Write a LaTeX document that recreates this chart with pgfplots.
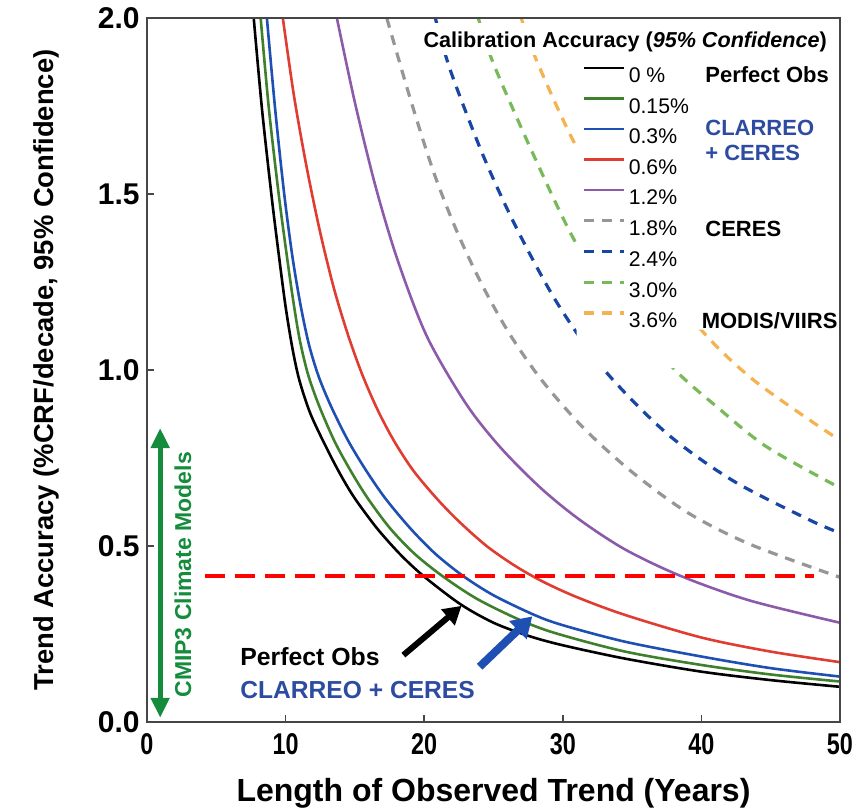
\documentclass[border=0pt]{standalone}
\usepackage{fontspec}
\setmainfont{Liberation Sans}
\usepackage{graphicx}
\usepackage{pgfplots}
\pgfplotsset{compat=1.18}
\usetikzlibrary{arrows.meta}

\definecolor{axisgray}{RGB}{70,70,70}
\definecolor{cgreen}{RGB}{62,128,44}
\definecolor{cblue}{RGB}{30,80,180}
\definecolor{cred}{RGB}{224,60,50}
\definecolor{cpurple}{RGB}{140,90,170}
\definecolor{cgray}{RGB}{150,150,150}
\definecolor{cdblue}{RGB}{25,70,165}
\definecolor{clgreen}{RGB}{120,185,90}
\definecolor{corange}{RGB}{245,178,80}
\definecolor{cmip}{RGB}{20,140,60}
\definecolor{txtblue}{RGB}{45,75,160}

\begin{document}
\begin{tikzpicture}
\begin{axis}[
    scale only axis, width=346.5pt, height=352pt,
    xmin=0, xmax=50, ymin=0, ymax=2,
    axis on top,
    axis line style={draw=axisgray, line width=1pt},
    xtick={0,10,20,30,40,50},
    xticklabels={\scalebox{0.78}[1]{0},\scalebox{0.78}[1]{10},\scalebox{0.78}[1]{20},
                 \scalebox{0.78}[1]{30},\scalebox{0.78}[1]{40},\scalebox{0.78}[1]{50}},
    ytick={0,0.5,1,1.5,2}, yticklabels={0.0,0.5,1.0,1.5,2.0},
    xtick pos=bottom, ytick pos=left, tick align=inside,
    major tick length=3.5pt,
    tick style={draw=axisgray, line width=0.8pt},
    xticklabel style={font=\fontsize{15}{15}\selectfont\bfseries, inner sep=0pt, anchor=north, yshift=-5.5pt},
    yticklabel style={font=\fontsize{15}{15}\selectfont\bfseries, inner sep=0pt, anchor=east, xshift=-3.5pt},
    xlabel={Length of Observed Trend (Years)},
    ylabel={Trend Accuracy (\%CRF/decade, 95\% Confidence)},
    xlabel style={font=\fontsize{16}{16}\selectfont\bfseries, at={(axis description cs:0.5,-0.1009)}, anchor=center},
    ylabel style={font=\fontsize{13.7}{13.7}\selectfont\bfseries, at={(axis description cs:-0.1457,0.5)}, anchor=center},
    legend style={draw=none, fill=none, at={(axis cs:31.4,1.491)}, anchor=west,
        inner sep=0pt, row sep=7.2pt, column sep=1.5pt,
        font=\fontsize{10.6}{12}\selectfont, nodes={inner sep=0pt, text height=7.6pt, text depth=0pt}},
    legend cell align=left,
    legend image code/.code={\draw[#1] (0pt,3.6pt) -- (20pt,3.6pt);},
    every axis plot/.append style={smooth, tension=0.5},
]
% 0 %
\addplot[black, line width=1.3pt] coordinates {
(7.7,2.00)(8.3,1.74)(9.0,1.49)(9.5,1.33)(10.0,1.18)(10.5,1.06)(11.0,0.97)(11.8,0.875)
(13.0,0.775)(14.0,0.70)(15.0,0.635)(16.6,0.55)(18.3,0.475)(20.0,0.413)(22.6,0.335)
(25.0,0.282)(27.5,0.245)(30.0,0.218)(34.5,0.180)(40.0,0.143)(45.0,0.119)(50.0,0.100)};
% 0.15 %
\addplot[cgreen, line width=1.3pt] coordinates {
(8.2,2.00)(8.8,1.74)(9.5,1.50)(10.0,1.35)(10.5,1.21)(11.0,1.09)(11.6,0.99)(12.4,0.90)
(13.5,0.80)(14.6,0.72)(15.85,0.64)(17.5,0.552)(19.3,0.478)(21.3,0.415)(23.8,0.350)
(26.9,0.29)(29.5,0.252)(34.5,0.200)(40.0,0.162)(45.0,0.135)(50.0,0.115)};
% 0.3 %
\addplot[cblue, line width=1.3pt] coordinates {
(8.65,2.00)(9.25,1.74)(9.9,1.50)(10.5,1.32)(11.1,1.18)(11.7,1.07)(12.4,0.98)(13.3,0.895)
(14.5,0.80)(15.8,0.715)(17.2,0.635)(19.0,0.55)(20.8,0.478)(22.8,0.415)(25.0,0.36)
(27.9,0.305)(30.0,0.275)(34.5,0.228)(40.0,0.186)(45.0,0.153)(50.0,0.129)};
% 0.6 %
\addplot[cred, line width=1.3pt] coordinates {
(9.8,2.00)(10.6,1.78)(11.5,1.58)(12.5,1.39)(13.5,1.23)(14.5,1.10)(15.5,0.99)(16.6,0.89)
(17.8,0.80)(19.2,0.715)(20.9,0.635)(22.5,0.57)(24.5,0.50)(26.5,0.445)(28.5,0.40)
(31.0,0.355)(34.5,0.304)(40.0,0.240)(45.0,0.200)(50.0,0.170)};
% 1.2 %
\addplot[cpurple, line width=1.3pt] coordinates {
(13.7,2.00)(15.0,1.76)(16.5,1.52)(18.1,1.31)(20.2,1.095)(23.0,0.905)(25.5,0.78)
(28.4,0.665)(31.2,0.575)(34.5,0.49)(38.5,0.415)(43.5,0.345)(50.0,0.282)};
% 1.8 %
\addplot[cgray, line width=1.6pt, dash pattern=on 5pt off 4pt] coordinates {
(17.3,2.00)(19.0,1.77)(20.7,1.56)(22.4,1.39)(24.2,1.24)(26.2,1.10)(28.5,0.97)
(31.5,0.835)(35.0,0.71)(39.0,0.595)(43.5,0.505)(50.0,0.411)};
% 2.4 %
\addplot[cdblue, line width=1.6pt, dash pattern=on 5pt off 4pt] coordinates {
(20.8,2.00)(21.9,1.85)(24.3,1.605)(26.7,1.40)(29.6,1.19)(33.0,1.00)(37.5,0.82)
(42.3,0.685)(47.8,0.574)(50.0,0.537)};
% 3.0 %
\addplot[clgreen, line width=1.6pt, dash pattern=on 5pt off 4pt] coordinates {
(23.9,2.00)(25.0,1.87)(27.9,1.61)(30.9,1.364)(34.0,1.18)(38.1,1.00)(41.1,0.896)
(44.7,0.782)(50.0,0.665)};
% 3.6 %
\addplot[corange, line width=1.6pt, dash pattern=on 5pt off 4pt] coordinates {
(27.0,2.00)(28.1,1.88)(30.9,1.64)(35.0,1.36)(40.1,1.109)(43.5,0.98)(47.1,0.877)(50.0,0.80)};
% requirement line
\addplot[red, line width=1.6pt, dash pattern=on 10pt off 5pt, forget plot, sharp plot] coordinates {
(4.2,0.415)(48.1,0.415)};
\legend{0 \%,0.15\%,0.3\%,0.6\%,1.2\%,1.8\%,2.4\%,3.0\%,3.6\%}

% white panels behind the key
\fill[white] (axis cs:31.0,1.90) -- (axis cs:31.0,1.005) -- (axis cs:38.8,1.005)
    -- (axis cs:38.8,1.115) -- (axis cs:49.95,1.115) -- (axis cs:49.95,1.90) -- cycle;
\fill[white] (axis cs:19.3,1.895) rectangle (axis cs:49.95,1.985);
\node[font=\fontsize{10.8}{12}\selectfont\bfseries] at (axis cs:34.5,1.932)
    {Calibration Accuracy (\textit{95\% Confidence})};
\node[font=\fontsize{11}{13}\selectfont\bfseries, anchor=west, inner sep=0pt] at (axis cs:40.26,1.838) {Perfect Obs};
\node[font=\fontsize{11}{12.5}\selectfont\bfseries, text=txtblue, anchor=west, align=left, inner sep=0pt] at (axis cs:40.26,1.653) {CLARREO\\+ CERES};
\node[font=\fontsize{11}{13}\selectfont\bfseries, anchor=west, inner sep=0pt] at (axis cs:40.26,1.40) {CERES};
\node[font=\fontsize{11}{13}\selectfont\bfseries, anchor=west, inner sep=0pt] at (axis cs:40.0,1.139) {MODIS/VIIRS};

% annotations
\node[font=\fontsize{12.4}{14}\selectfont\bfseries, anchor=west, inner sep=0pt] at (axis cs:6.71,0.185) {Perfect Obs};
\node[font=\fontsize{12.3}{14}\selectfont\bfseries, text=txtblue, anchor=west, inner sep=0pt] at (axis cs:6.71,0.091) {CLARREO + CERES};
\draw[black, line width=3pt, -{Triangle[length=9pt, width=10pt]}] (axis cs:18.5,0.19) -- (axis cs:22.7,0.33);
\draw[cblue, line width=4pt, -{Triangle[length=10pt, width=12pt]}] (axis cs:24.0,0.157) -- (axis cs:27.8,0.30);
\draw[cmip, line width=2.5pt, {Triangle[length=10pt, width=9pt]}-{Triangle[length=10pt, width=9pt]}] (axis cs:0.95,0.012) -- (axis cs:0.95,0.835);
\node[font=\fontsize{11.5}{13}\selectfont\bfseries, text=cmip, rotate=90] at (axis cs:2.6,0.418) {CMIP3 Climate Models};

\coordinate (bl) at (rel axis cs:0,0);
\coordinate (tr) at (rel axis cs:1,1);
\end{axis}
\pgfresetboundingbox
\path ([xshift=-73.5pt,yshift=-43pt]bl) rectangle ([xshift=8pt,yshift=9pt]tr);
\end{tikzpicture}
\end{document}
